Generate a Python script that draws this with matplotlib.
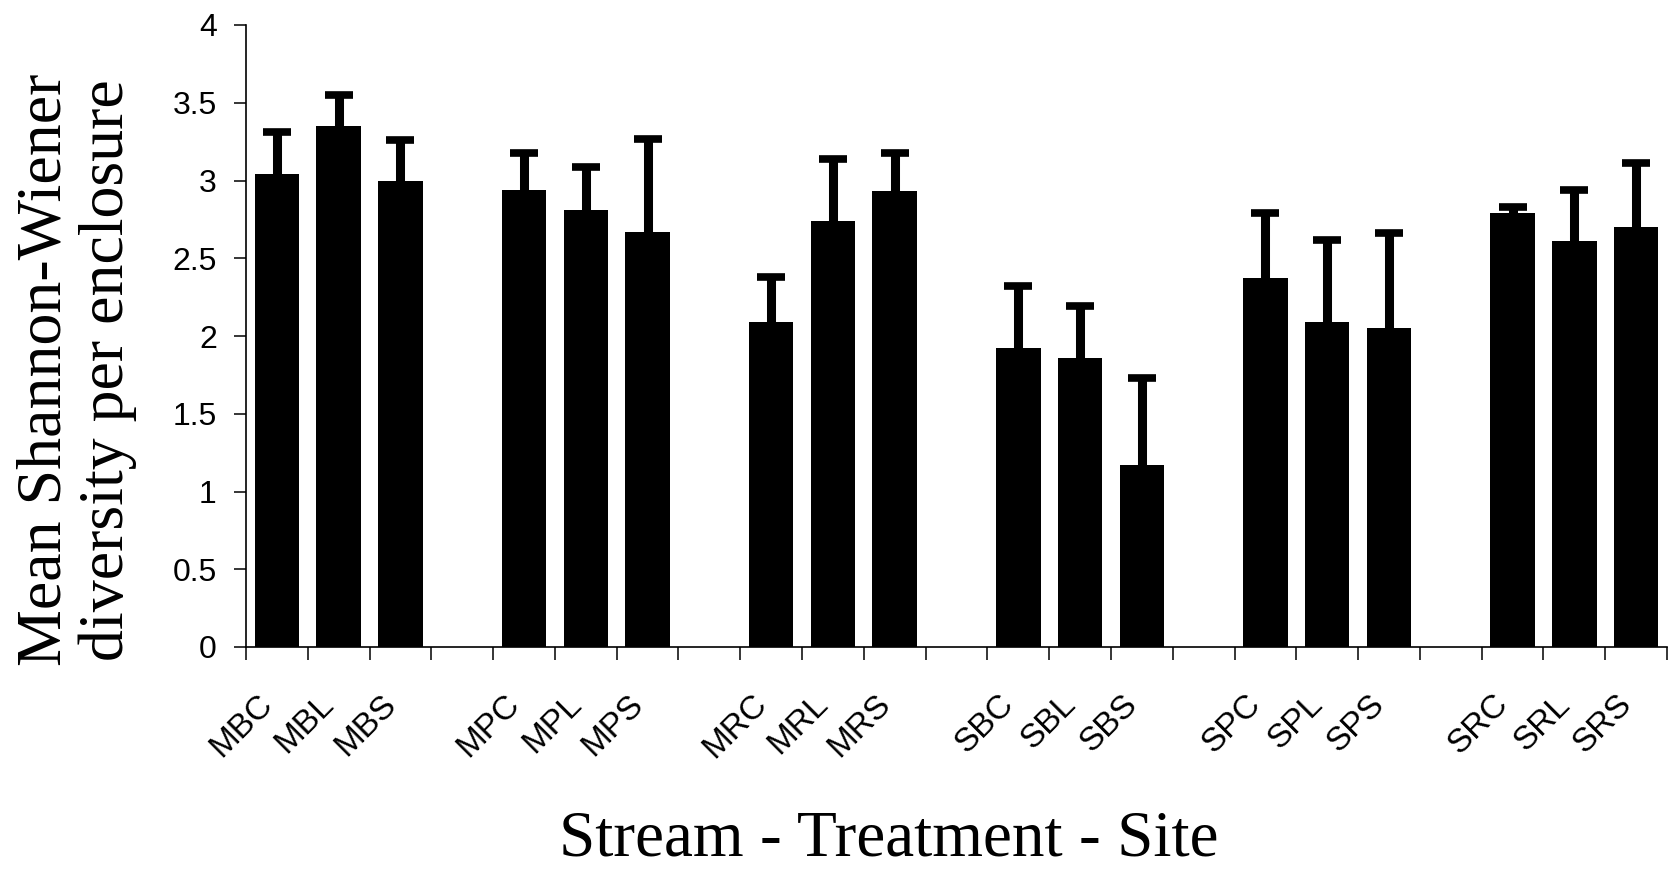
import numpy as np
import matplotlib
matplotlib.use("Agg")
import matplotlib.pyplot as plt

plt.rcParams["font.family"] = ["Liberation Sans", "DejaVu Sans"]

# Stream - treatment - site codes, 6 groups of 3
sites = ["MBC", "MBL", "MBS",
         "MPC", "MPL", "MPS",
         "MRC", "MRL", "MRS",
         "SBC", "SBL", "SBS",
         "SPC", "SPL", "SPS",
         "SRC", "SRL", "SRS"]

# Mean Shannon-Wiener diversity per enclosure
means = [3.04, 3.35, 3.00,
         2.94, 2.81, 2.67,
         2.09, 2.74, 2.93,
         1.92, 1.86, 1.17,
         2.37, 2.09, 2.05,
         2.79, 2.61, 2.70]

# upper error bar (SE)
errors = [0.27, 0.20, 0.26,
          0.24, 0.28, 0.60,
          0.29, 0.40, 0.25,
          0.40, 0.33, 0.56,
          0.42, 0.53, 0.61,
          0.04, 0.33, 0.41]

yticks = [0, 0.5, 1, 1.5, 2, 2.5, 3, 3.5, 4]

# each group takes 3 slots plus one empty slot (Excel style blank category)
n_slots = 23
idx = np.arange(len(sites))
x = (idx // 3) * 4 + (idx % 3) + 0.5

fig = plt.figure(figsize=(16.69, 8.74), dpi=100)
ax = fig.add_axes([246 / 1669, 227 / 874, 1421 / 1669, 622 / 874])

ax.bar(x, means, width=0.72, color="black", edgecolor="none", zorder=2)
eb = ax.errorbar(x, means, yerr=[np.zeros(len(errors)), errors], fmt="none",
                 ecolor="black", elinewidth=6.5, capsize=10, capthick=5.5, zorder=3)
# only keep the upper caps
for cap in eb[1]:
    if np.allclose(cap.get_ydata(), means):
        cap.set_visible(False)

ax.set_xlim(0, n_slots)
ax.set_ylim(0, 4)

ax.spines["top"].set_visible(False)
ax.spines["right"].set_visible(False)
ax.spines["left"].set_linewidth(1.2)
ax.spines["bottom"].set_linewidth(1.2)

ax.set_yticks(yticks)
ax.set_yticklabels(["%g" % v for v in yticks])
ax.tick_params(axis="y", direction="out", length=9, width=1.1, pad=12, labelsize=23)

# major ticks at slot boundaries, labels on minor ticks near bar centres
ax.set_xticks(np.arange(n_slots + 1))
ax.set_xticklabels([])
ax.tick_params(axis="x", which="major", direction="out", length=9, width=1.1)
ax.set_xticks(x - 0.33, minor=True)
ax.set_xticklabels(sites, minor=True, rotation=45, ha="right", va="top",
                   rotation_mode="anchor")
ax.tick_params(axis="x", which="minor", length=0, pad=30, labelsize=24)

fig.text(77 / 1669, 1 - 370 / 874, "Mean Shannon-Wiener\ndiversity per enclosure",
         rotation=90, ha="center", va="center", multialignment="center",
         fontname="Liberation Serif", fontsize=46, linespacing=1.1)
fig.text(889 / 1669, 4 / 874, "Stream - Treatment - Site", ha="center",
         va="bottom", fontname="Liberation Serif", fontsize=47)

fig.savefig("out.png", dpi=100, facecolor="white")
